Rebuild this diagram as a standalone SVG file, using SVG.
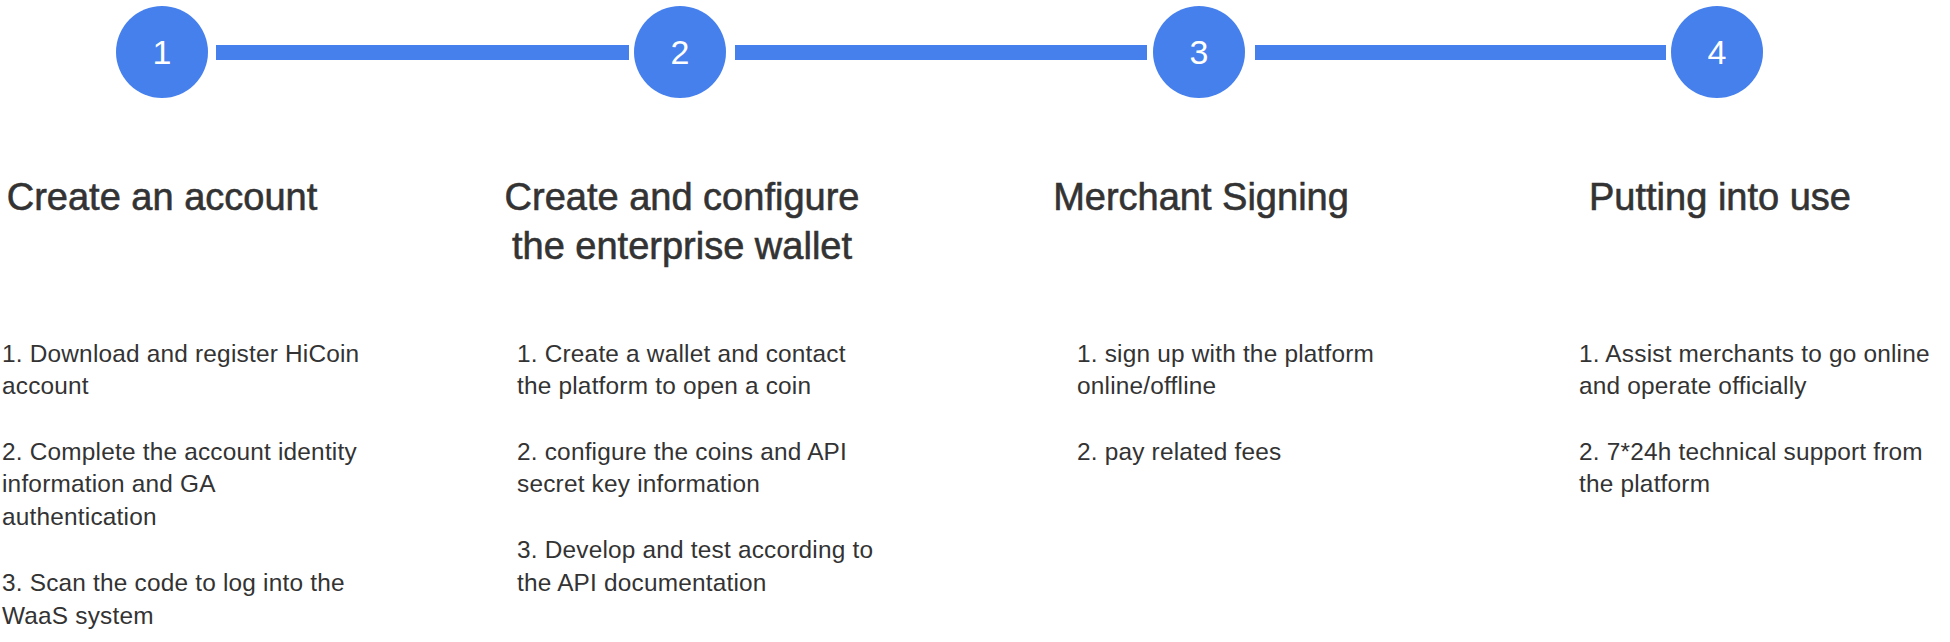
<svg xmlns="http://www.w3.org/2000/svg" width="1950" height="642" viewBox="0 0 1950 642">
<style>
.bg{fill:#ffffff}
.circ{fill:#4680ED}
.num{fill:#ffffff;font-family:"Liberation Sans",Arial,sans-serif;font-size:34px;text-anchor:middle}
.title{fill:#333333;stroke:#333333;stroke-width:0.6px;font-family:"Liberation Sans",Arial,sans-serif;font-size:38px;text-anchor:middle}
.body{fill:#333333;font-family:"Liberation Sans",Arial,sans-serif;font-size:24.4px;letter-spacing:0.2px}
.bar{fill:#4680ED}
</style>
<rect class="bg" x="0" y="0" width="1950" height="642"/>
<g id="connectors">
<rect class="bar" x="216" y="45" width="413" height="15"/>
<rect class="bar" x="735" y="45" width="412" height="15"/>
<rect class="bar" x="1255" y="45" width="411" height="15"/>
</g>
<g id="step1">
<circle class="circ" cx="162" cy="52" r="46"/>
<text class="num" x="162" y="64">1</text>
<text class="title" x="162" y="210">Create an account</text>
<text class="body" x="2" y="362">1. Download and register HiCoin</text>
<text class="body" x="2" y="394">account</text>
<text class="body" x="2" y="460">2. Complete the account identity</text>
<text class="body" x="2" y="492">information and GA</text>
<text class="body" x="2" y="525">authentication</text>
<text class="body" x="2" y="591">3. Scan the code to log into the</text>
<text class="body" x="2" y="624">WaaS system</text>
</g>
<g id="step2">
<circle class="circ" cx="680" cy="52" r="46"/>
<text class="num" x="680" y="64">2</text>
<text class="title" x="682" y="210">Create and configure</text>
<text class="title" x="682" y="259">the enterprise wallet</text>
<text class="body" x="517" y="362">1. Create a wallet and contact</text>
<text class="body" x="517" y="394">the platform to open a coin</text>
<text class="body" x="517" y="460">2. configure the coins and API</text>
<text class="body" x="517" y="492">secret key information</text>
<text class="body" x="517" y="558">3. Develop and test according to</text>
<text class="body" x="517" y="591">the API documentation</text>
</g>
<g id="step3">
<circle class="circ" cx="1199" cy="52" r="46"/>
<text class="num" x="1199" y="64">3</text>
<text class="title" x="1201" y="210">Merchant Signing</text>
<text class="body" x="1077" y="362">1. sign up with the platform</text>
<text class="body" x="1077" y="394">online/offline</text>
<text class="body" x="1077" y="460">2. pay related fees</text>
</g>
<g id="step4">
<circle class="circ" cx="1717" cy="52" r="46"/>
<text class="num" x="1717" y="64">4</text>
<text class="title" x="1720" y="210">Putting into use</text>
<text class="body" x="1579" y="362">1. Assist merchants to go online</text>
<text class="body" x="1579" y="394">and operate officially</text>
<text class="body" x="1579" y="460">2. 7*24h technical support from</text>
<text class="body" x="1579" y="492">the platform</text>
</g>
</svg>
